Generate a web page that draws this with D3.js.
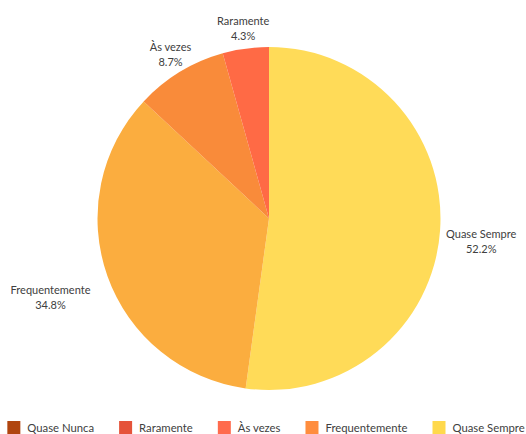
<!DOCTYPE html>
<html>
<head>
<meta charset="utf-8">
<script src="https://cdn.jsdelivr.net/npm/d3@7/dist/d3.min.js"></script>
<style>
  html, body { margin: 0; padding: 0; background: #fff; }
  svg { display: block; font-family: Lato, "Open Sans", sans-serif; }
</style>
</head>
<body>
<svg id="chart" width="526" height="434"></svg>
<script>
// Response categories (legend order) and answer counts
const categories = ["Quase Nunca", "Raramente", "Às vezes", "Frequentemente", "Quase Sempre"];
const counts = [0, 1, 2, 8, 12];
const legendColors = ["#b0450f", "#e5533a", "#ff6b4d", "#ff8d3e", "#ffd94c"];
const sliceColors = ["#b0450f", "#ff6a45", "#f98b3a", "#fbad3f", "#ffdb58"];

const svg = d3.select("#chart");
const W = 526, H = 434;
const cx = 269, cy = 218.5, R = 171.5;

const total = d3.sum(counts);
const rows = categories.map((c, i) => ({ name: c, value: counts[i], color: sliceColors[i] }));
// slices run clockwise from 12 o'clock, starting with the last category
const ordered = rows.slice().reverse();

const pie = d3.pie().sort(null).value(d => d.value);
const arcs = pie(ordered).filter(a => a.data.value > 0);
const arc = d3.arc().innerRadius(0).outerRadius(R);

const g = svg.append("g").attr("transform", `translate(${cx},${cy})`);
g.selectAll("path.slice")
  .data(arcs)
  .join("path")
  .attr("class", "slice")
  .attr("d", arc)
  .attr("fill", d => d.data.color);

// data labels outside each slice
const fmt = d3.format(".1f");
const labelR = R + 18;
arcs.forEach(a => {
  const mid = (a.startAngle + a.endAngle) / 2;
  const sx = Math.sin(mid), sy = -Math.cos(mid);
  let x = labelR * sx, y = labelR * sy;
  const side = Math.abs(sx) > 0.7;
  const anchor = side ? (sx > 0 ? "start" : "end") : "middle";
  if (side) { x += (sx > 0 ? -12 : 0); y += 8 + 20 * sy; } else { y -= 3; }
  const t = g.append("text")
    .attr("text-anchor", anchor)
    .attr("font-size", 11)
    .attr("fill", "#404040");
  const lines = [a.data.name, fmt(a.data.value / total * 100) + "%"];
  // percentage is centered under the name
  t.append("tspan").attr("x", x).attr("y", y - 3).text(lines[0]);
  const tmp = t.node().getComputedTextLength();
  let px = x;
  if (anchor === "start") px = x + tmp / 2;
  if (anchor === "end") px = x - tmp / 2;
  t.append("tspan").attr("x", px).attr("y", y + 12).attr("text-anchor", "middle").text(lines[1]);
});

// legend along the bottom
const legend = svg.append("g").attr("class", "legend");
const sw = 13, gapText = 7, gapItem = 25;
let lx = 0;
categories.forEach((c, i) => {
  const it = legend.append("g");
  it.append("rect").attr("x", 0).attr("y", 0).attr("width", sw).attr("height", sw).attr("fill", legendColors[i]);
  const tx = it.append("text").attr("x", sw + gapText).attr("y", 11).attr("font-size", 11.3).attr("fill", "#404040").text(c);
  const w = sw + gapText + tx.node().getComputedTextLength();
  it.attr("transform", `translate(${lx},0)`);
  lx += w + gapItem;
});
const totalW = lx - gapItem;
legend.attr("transform", `translate(${(W - totalW) / 2 + 3},${421})`);
</script>
</body>
</html>
